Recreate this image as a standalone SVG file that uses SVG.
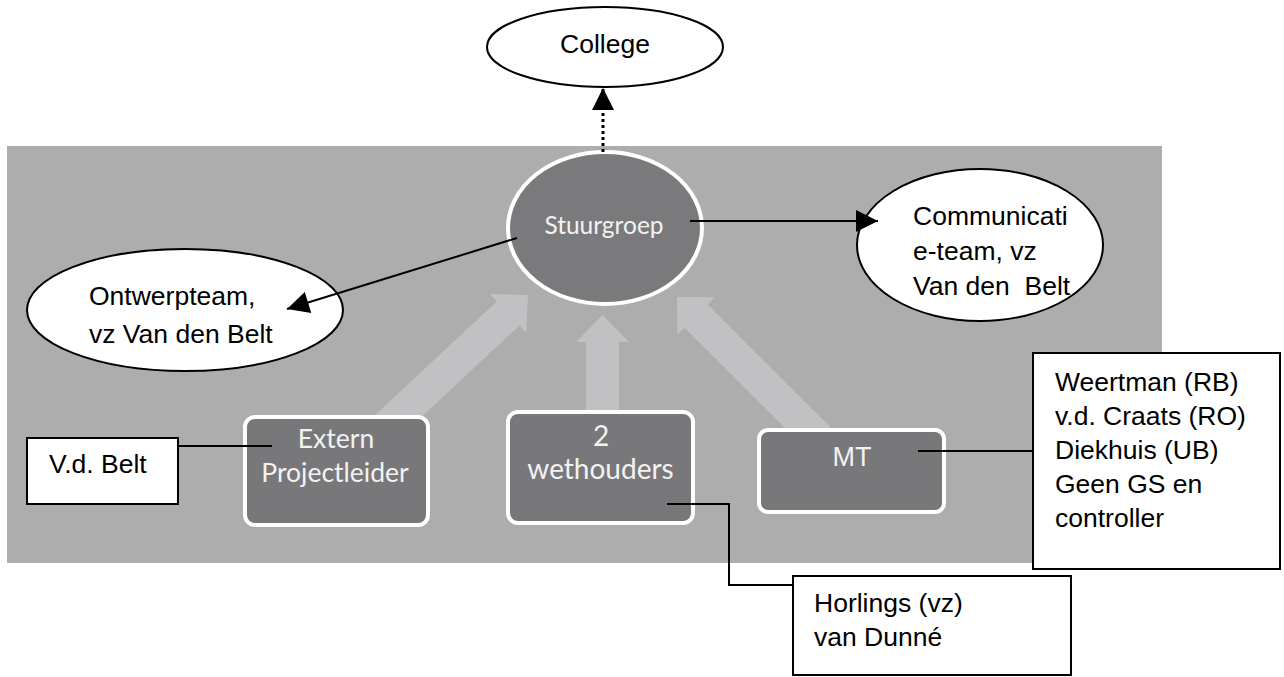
<svg xmlns="http://www.w3.org/2000/svg" width="1284" height="677" viewBox="0 0 1284 677">
<style>
.lbl{font-family:"Liberation Sans",Arial,sans-serif;font-size:26.5px;fill:#000}
.wt{font-family:Lato,"Open Sans",sans-serif;fill:#f2f2f2}
.wbox{fill:#78787a;stroke:#fff;stroke-width:4}
.bbox{fill:#fff;stroke:#000;stroke-width:2}
.ell{fill:#fff;stroke:#000;stroke-width:2}
.big{fill:#c1c1c3}
.con{fill:none;stroke:#000;stroke-width:2}
</style>
<defs>
<marker id="ah" viewBox="0 0 10 10" refX="10" refY="5" markerWidth="24" markerHeight="22" markerUnits="userSpaceOnUse" orient="auto">
<path d="M0,0 L10,5 L0,10 z" fill="#000"/>
</marker>
<marker id="ahl" viewBox="0 0 10 10" refX="10" refY="5" markerWidth="27" markerHeight="22" markerUnits="userSpaceOnUse" orient="auto">
<path d="M0,0 L10,5 L0,10 z" fill="#000"/>
</marker>
<polygon id="blk" points="0,0 26.5,27 16.5,27 16.5,200 -16.5,200 -16.5,27 -26.5,27"/>
</defs>
<rect id="panel" x="7" y="146" width="1155" height="417" fill="#adadae"/>
<g id="flow-arrows" class="big">
<use href="#blk" transform="translate(528,295) rotate(47)"/>
<use href="#blk" transform="translate(602.5,315)"/>
<use href="#blk" transform="translate(677,297) rotate(-45)"/>
</g>
<g id="college">
<ellipse class="ell" cx="605" cy="47" rx="118" ry="40"/>
<text class="lbl" x="605" y="53" text-anchor="middle">College</text>
</g>
<g id="stuurgroep">
<ellipse cx="605" cy="228" rx="97" ry="76" fill="#7a7a7c" stroke="#fff" stroke-width="4"/>
<text class="wt" x="604" y="234" text-anchor="middle" font-size="24.5">Stuurgroep</text>
</g>
<g id="ontwerpteam">
<ellipse class="ell" cx="185" cy="310" rx="158" ry="61"/>
<text class="lbl" x="89" y="305">Ontwerpteam,</text>
<text class="lbl" x="89" y="343">vz Van den Belt</text>
</g>
<g id="communicatieteam">
<ellipse class="ell" cx="980" cy="245" rx="123" ry="76"/>
<text class="lbl" x="913" y="225">Communicati</text>
<text class="lbl" x="913" y="260">e-team, vz</text>
<text class="lbl" x="913" y="295" xml:space="preserve">Van den  Belt</text>
</g>
<g id="extern">
<rect class="wbox" x="245" y="417" width="183" height="108" rx="10"/>
<text class="wt" x="336" y="448" text-anchor="middle" font-size="26.5">Extern</text>
<text class="wt" x="335" y="482" text-anchor="middle" font-size="26.5">Projectleider</text>
</g>
<g id="wethouders">
<rect class="wbox" x="508" y="412" width="185" height="111" rx="10"/>
<text class="wt" x="601" y="446" text-anchor="middle" font-size="28">2</text>
<text class="wt" x="600.5" y="479" text-anchor="middle" font-size="28">wethouders</text>
</g>
<g id="mt">
<rect class="wbox" x="759" y="430" width="185" height="82" rx="9"/>
<text x="852" y="466" text-anchor="middle" font-family="Liberation Sans,Arial,sans-serif" font-size="27" fill="#f2f2f2">MT</text>
</g>
<g id="vdbelt">
<rect class="bbox" x="27" y="438" width="151" height="66"/>
<text class="lbl" x="49" y="473">V.d. Belt</text>
</g>
<g id="mt-leden">
<rect class="bbox" x="1033" y="353" width="247" height="216"/>
<text class="lbl" x="1055" y="391">Weertman (RB)</text>
<text class="lbl" x="1055" y="425">v.d. Craats (RO)</text>
<text class="lbl" x="1055" y="459">Diekhuis (UB)</text>
<text class="lbl" x="1055" y="493">Geen GS en</text>
<text class="lbl" x="1055" y="527">controller</text>
</g>
<g id="horlings">
<rect class="bbox" x="793" y="576" width="278" height="99"/>
<text class="lbl" x="814" y="612">Horlings (vz)</text>
<text class="lbl" x="814" y="646">van Dunné</text>
</g>
<g id="connectors">
<line x1="603" y1="152" x2="603" y2="88" stroke="#000" stroke-width="3" stroke-dasharray="3 3" marker-end="url(#ah)"/>
<line class="con" x1="517" y1="238" x2="287" y2="309" marker-end="url(#ahl)"/>
<line class="con" x1="690" y1="221" x2="878" y2="221" marker-end="url(#ah)"/>
<line class="con" x1="178" y1="446" x2="272" y2="446"/>
<line class="con" x1="918" y1="451" x2="1033" y2="451"/>
<polyline class="con" points="667,504 729,504 729,585 793,585"/>
</g>
</svg>
